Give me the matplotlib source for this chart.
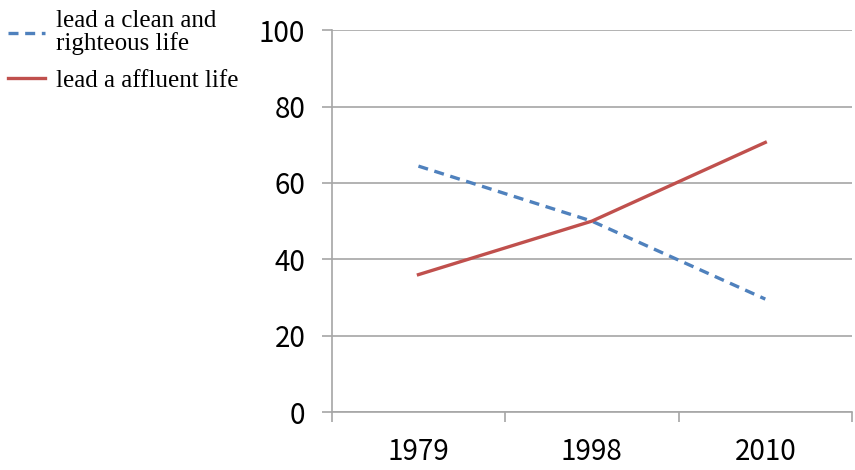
import matplotlib.pyplot as plt
import numpy as np

years = ['1979', '1998', '2010']
clean = [64.4, 50, 29.6]
affluent = [36, 50, 70.6]
labels = ['lead a clean and\nrighteous life', 'lead a affluent life']

plt.rcParams['font.family'] = ['Noto Sans CJK KR', 'DejaVu Sans']

fig = plt.figure(figsize=(8.55, 4.7), dpi=100)
ax = fig.add_axes([0.388, 0.123, 0.6085, 0.813])

x = np.arange(len(years))
l1, = ax.plot(x, clean, color='#4F81BD', lw=2.4, ls=(0, (3, 2)), dash_capstyle='butt')
l2, = ax.plot(x, affluent, color='#C0504D', lw=2.4)

ax.set_xlim(-0.5, len(years) - 0.5)
ax.set_ylim(0, 100)
ax.set_yticks(range(0, 101, 20))
ax.yaxis.grid(True, color='#A6A6A6', lw=1.2)
ax.set_axisbelow(True)

# category axis: ticks between categories, labels at centers
ax.set_xticks(np.arange(-0.5, len(years), 1))
ax.set_xticklabels([])
ax.set_xticks(x, minor=True)
ax.set_xticklabels(years, minor=True, fontsize=20)
ax.tick_params(axis='x', which='major', length=7, color='#A6A6A6', width=1.2)
ax.tick_params(axis='x', which='minor', length=0, pad=18)
ax.tick_params(axis='y', length=7, color='#A6A6A6', width=1.2, labelsize=20, pad=12)

for s in ['top', 'right']:
    ax.spines[s].set_visible(False)
for s in ['left', 'bottom']:
    ax.spines[s].set_color('#A6A6A6')
    ax.spines[s].set_linewidth(1.2)

leg = fig.legend([l1, l2], labels, loc='upper left', bbox_to_anchor=(0.009, 0.978),
                 frameon=False, borderpad=0, borderaxespad=0,
                 handlelength=1.5, handletextpad=0.45, labelspacing=0.55,
                 prop={'family': 'Liberation Serif', 'size': 18})
for t in leg.get_texts():
    t.set_linespacing(1.0)

plt.savefig('out.png')
